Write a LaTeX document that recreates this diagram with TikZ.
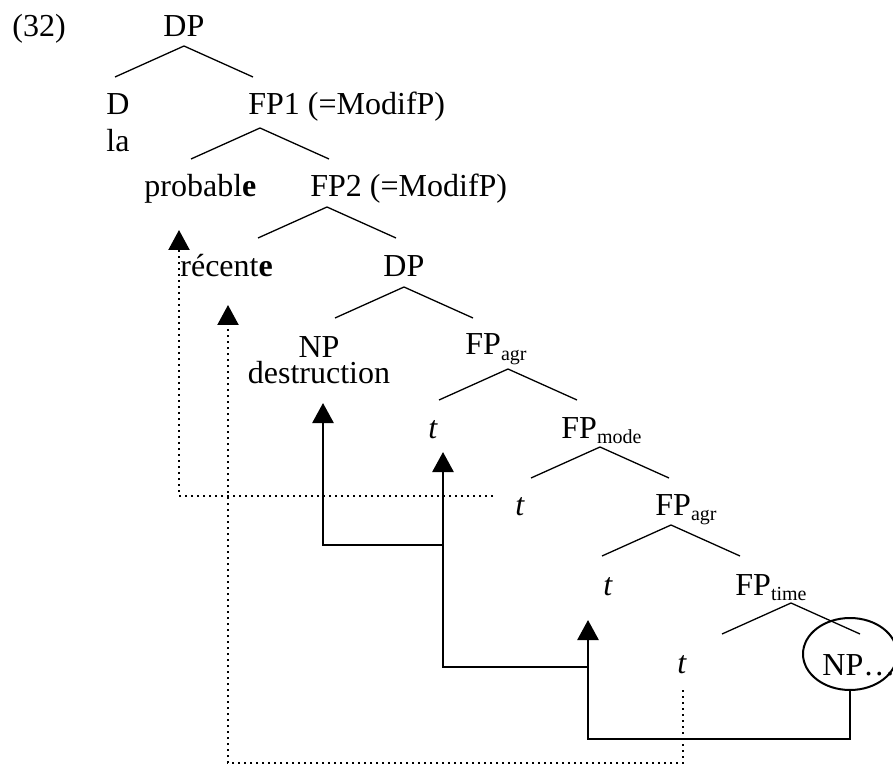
\documentclass[tikz,border=0pt]{standalone}
\usepackage{fontspec}
\setmainfont{Liberation Serif}
\usetikzlibrary{arrows.meta, shapes.geometric}

\tikzset{
  lbl/.style={inner sep=0pt, anchor=base west, font=\fontsize{16}{19}\selectfont},
  branch/.style={line width=0.65pt},
  move/.style={line width=1.4pt, -{Triangle[length=10pt,width=10.5pt]}},
  trace/.style={line width=1.1pt, dash pattern=on 1pt off 2pt, -{Triangle[length=10pt,width=10.5pt]}},
  ring/.style={draw, ellipse, line width=1pt, minimum width=47pt, minimum height=36pt, inner sep=0pt}
}
\newcommand{\lowidx}[1]{\raisebox{-2.5pt}{\fontsize{10}{12}\selectfont #1}}

\begin{document}
\begin{tikzpicture}[x=0.5pt, y=-0.5pt]
  \useasboundingbox (0,0) rectangle (893,764);

  % labels of the tree
  \node[lbl] (ex) at (12,37) {(32)};
  \node[lbl] (dp0) at (163,37) {DP};
  \node[lbl] (d) at (106,115) {D};
  \node[lbl] (la) at (106,152) {la};
  \node[lbl] (fp1) at (248,115) {FP1 (=ModifP)};
  \node[lbl] (prob) at (144,197) {probabl\textbf{e}};
  \node[lbl] (fp2) at (310,197) {FP2 (=ModifP)};
  \node[lbl] (rec) at (180,277) {récent\textbf{e}};
  \node[lbl] (dp1) at (383,277) {DP};
  \node[lbl, anchor=north, align=center, font=\fontsize{16}{13}\selectfont] (np) at (319,336) {NP\\destruction};
  \node[lbl] (fpagr1) at (465,355) {FP\lowidx{agr}};
  \node[lbl] (t1) at (428,438) {\itshape t};
  \node[lbl] (fpmode) at (561,438) {FP\lowidx{mode}};
  \node[lbl] (t2) at (515,515) {\itshape t};
  \node[lbl] (fpagr2) at (655,515) {FP\lowidx{agr}};
  \node[lbl] (t3) at (603,595) {\itshape t};
  \node[lbl] (fptime) at (735,595) {FP\lowidx{time}};
  \node[lbl] (t4) at (677,673) {\itshape t};
  \node[lbl] (npdots) at (822,675) {NP\ldots};
  \node[ring] (np-ring) at (850,654) {};

  % branching points
  \coordinate (dp0-top) at (184,46);
  \coordinate (fp1-top) at (260,128);
  \coordinate (fp2-top) at (327,207);
  \coordinate (dp1-top) at (404,287);
  \coordinate (fpagr1-top) at (508,369);
  \coordinate (fpmode-top) at (600,447);
  \coordinate (fpagr2-top) at (671,525);
  \coordinate (fptime-top) at (791,603);
  \foreach \p in {dp0,fp1,fp2,dp1,fpagr1,fpmode,fpagr2,fptime}
    \draw[branch] (\p-top) -- ++(-69,31) (\p-top) -- ++(69,31);

  % ends of the movement arrows
  \coordinate (t3-tip) at (588,620);
  \coordinate (t1-tip) at (443,452);
  \coordinate (np-tip) at (323,403);
  \coordinate (rec-tip) at (228,305);
  \coordinate (prob-tip) at (179,230);
  \coordinate (t4-foot) at (683,690);
  \coordinate (t2-foot) at (493,496);
  \coordinate (j1) at (588,667);
  \coordinate (j2) at (443,545);

  % head movement
  \draw[move] (np-ring.south) -- ++(0,48) -| (t3-tip);
  \draw[move] (j1) -| (t1-tip);
  \draw[move] (j2) -| (np-tip);

  % adjective traces
  \draw[trace] (t4-foot) -- ++(0,73) -| (rec-tip);
  \draw[trace] (t2-foot) -| (prob-tip);
\end{tikzpicture}
\end{document}
